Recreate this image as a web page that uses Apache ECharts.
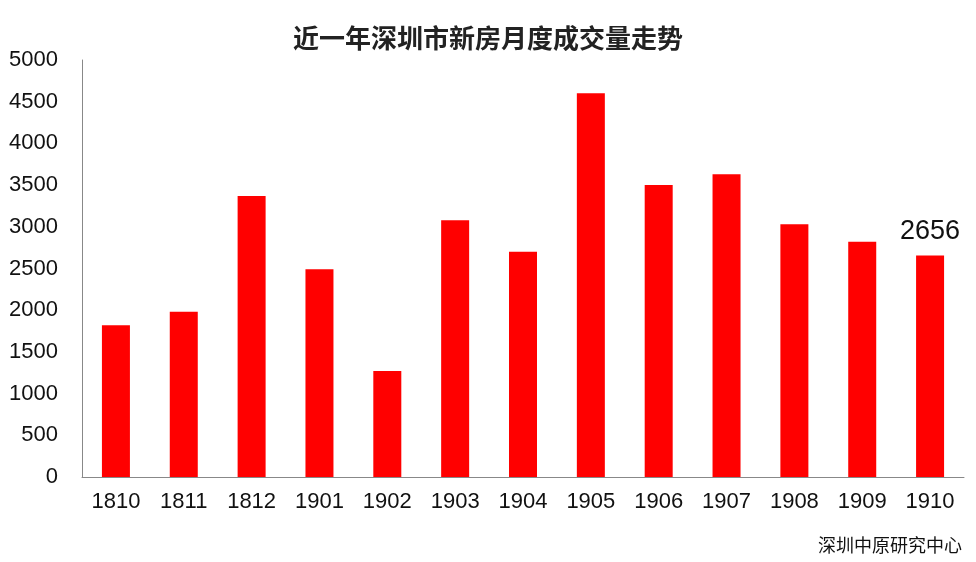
<!DOCTYPE html>
<html><head><meta charset="utf-8">
<script src="https://cdn.jsdelivr.net/npm/echarts@6/dist/echarts.min.js"></script>
<style>html,body{margin:0;background:#fff}#c{width:976px;height:562px}</style>
</head><body><div id="c"></div>
<script>
const categories=['1810','1811','1812','1901','1902','1903','1904','1905','1906','1907','1908','1909','1910'];
const values=[1820,1980,3370,2490,1270,3080,2700,4600,3500,3630,3030,2820,2656];
const yTicks=[0,500,1000,1500,2000,2500,3000,3500,4000,4500,5000];
const ch=echarts.init(document.getElementById('c'));
const font='"Noto Sans CJK SC", sans-serif';
ch.setOption({
  animation:false,
  title:{text:'近一年深圳市新房月度成交量走势',left:'center',top:20,textStyle:{fontFamily:font,fontSize:26,fontWeight:'bold',color:'#222'}},
  graphic:[{type:'text',right:14,bottom:8,style:{text:'深圳中原研究中心',font:'18px '+font,fill:'#111'}}],
  grid:{left:82,right:12,top:60,bottom:85},
  xAxis:{type:'category',data:categories,axisTick:{show:false},axisLine:{lineStyle:{color:'#888'}},
    axisLabel:{fontSize:22,color:'#111',fontFamily:'Arial, Liberation Sans',margin:14}},
  yAxis:{type:'value',min:yTicks[0],max:yTicks[yTicks.length-1],interval:500,splitLine:{show:false},
    axisLine:{show:true,lineStyle:{color:'#888'}},axisTick:{show:false},
    axisLabel:{fontSize:22,color:'#111',fontFamily:'Arial, Liberation Sans',margin:24,formatter:v=>String(v)}},
  series:[{type:'bar',data:values.map((v,i)=>i===values.length-1?{value:v,label:{show:true,position:'top',fontSize:27,color:'#111',distance:10,fontFamily:'Arial, Liberation Sans'}}:v),
    barWidth:28,itemStyle:{color:'#ff0000'}}]
});
</script></body></html>
